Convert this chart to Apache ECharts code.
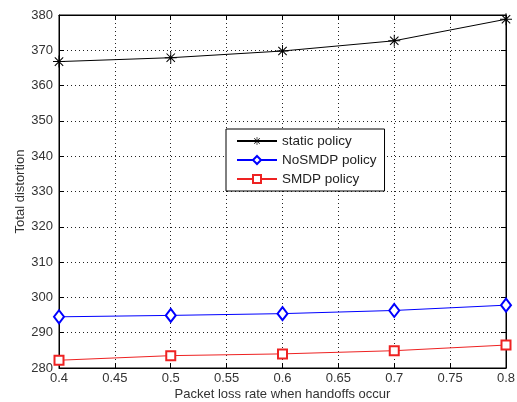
<!DOCTYPE html>
<html>
<head>
<meta charset="utf-8">
<script src="https://cdn.jsdelivr.net/npm/echarts@6/dist/echarts.min.js"></script>
<style>
  html, body { margin: 0; padding: 0; background: #fff; }
  #chart { width: 517px; height: 402px; }
</style>
</head>
<body>
<div id="chart"></div>
<script>
const lossRates = [0.4, 0.5, 0.6, 0.7, 0.8]
const staticPolicy = [366.8, 367.9, 369.8, 372.7, 378.8]
const noSmdpPolicy = [294.5, 294.9, 295.4, 296.3, 297.8]
const smdpPolicy = [282.2, 283.5, 284.0, 284.9, 286.5]

const asterisk = 'path://M4.6,0L5.4,0L5.4,10L4.6,10Z M0,4.6L10,4.6L10,5.4L0,5.4Z M1.2,1.8L1.8,1.2L8.8,8.2L8.2,8.8Z M8.2,1.2L8.8,1.8L1.8,8.8L1.2,8.2Z'

const chart = echarts.init(document.getElementById('chart'))

const font = 'Liberation Sans, Arial, sans-serif'
const gridLine = { show: true, lineStyle: { color: '#222', type: [1, 3], width: 1 } }

function pts(ys) {
  return lossRates.map((x, i) => [x, ys[i]])
}

const option = {
  backgroundColor: '#fff',
  animation: false,
  grid: {
    left: 59, right: 11, top: 15, bottom: 34,
    outerBoundsMode: 'none',
    show: true, borderColor: '#000', borderWidth: 1
  },
  legend: {
    orient: 'vertical',
    left: 226,
    top: 129,
    itemWidth: 40,
    itemHeight: 10,
    itemGap: 5,
    padding: [5, 8, 5, 10],
    borderColor: '#000',
    borderWidth: 1,
    backgroundColor: '#fff',
    textStyle: { fontFamily: font, fontSize: 13.5, color: '#222' },
    data: ['static policy', 'NoSMDP policy', 'SMDP policy']
  },
  xAxis: [{
    type: 'value',
    min: 0.4,
    max: 0.8,
    interval: 0.05,
    name: 'Packet loss rate when handoffs occur',
    nameLocation: 'middle',
    nameGap: 20,
    nameMoveOverlap: false,
    nameTextStyle: { fontFamily: font, fontSize: 13, color: '#333' },
    axisLine: { lineStyle: { color: '#000' } },
    axisTick: { inside: true, length: 5, lineStyle: { color: '#000' } },
    axisLabel: { fontFamily: font, fontSize: 13, color: '#333', margin: 4 },
    splitLine: gridLine
  }, {
    type: 'value', position: 'top', min: 0.4, max: 0.8, interval: 0.05,
    axisLine: { show: true, lineStyle: { color: '#000' } },
    axisTick: { inside: true, length: 5, lineStyle: { color: '#000' } },
    axisLabel: { show: false }, splitLine: { show: false }
  }],
  yAxis: [{
    type: 'value',
    min: 280,
    max: 380,
    interval: 10,
    name: 'Total distortion',
    nameLocation: 'middle',
    nameGap: 32,
    nameMoveOverlap: false,
    nameTextStyle: { fontFamily: font, fontSize: 13, color: '#333' },
    axisLine: { show: true, lineStyle: { color: '#000' } },
    axisTick: { show: true, inside: true, length: 5, lineStyle: { color: '#000' } },
    axisLabel: { fontFamily: font, fontSize: 13, color: '#333', margin: 6 },
    splitLine: gridLine
  }, {
    type: 'value', position: 'right', min: 280, max: 380, interval: 10,
    axisLine: { show: true, lineStyle: { color: '#000' } },
    axisTick: { show: true, inside: true, length: 5, lineStyle: { color: '#000' } },
    axisLabel: { show: false }, splitLine: { show: false }
  }],
  series: [
    {
      name: 'static policy',
      type: 'line',
      data: pts(staticPolicy),
      symbol: asterisk,
      symbolSize: 12,
      lineStyle: { color: '#000', width: 1 },
      itemStyle: { color: '#000' }
    },
    {
      name: 'NoSMDP policy',
      type: 'line',
      data: pts(noSmdpPolicy),
      symbol: 'emptyDiamond',
      symbolSize: [10, 13],
      lineStyle: { color: '#0000ff', width: 1 },
      itemStyle: { color: '#0000ff', borderColor: '#0000ff', borderWidth: 1.3 }
    },
    {
      name: 'SMDP policy',
      type: 'line',
      data: pts(smdpPolicy),
      symbol: 'emptyRect',
      symbolSize: 9,
      lineStyle: { color: '#ee2222', width: 1 },
      itemStyle: { color: '#ee2222', borderColor: '#ee2222', borderWidth: 1.2 }
    }
  ]
}

chart.setOption(option)
</script>
</body>
</html>
